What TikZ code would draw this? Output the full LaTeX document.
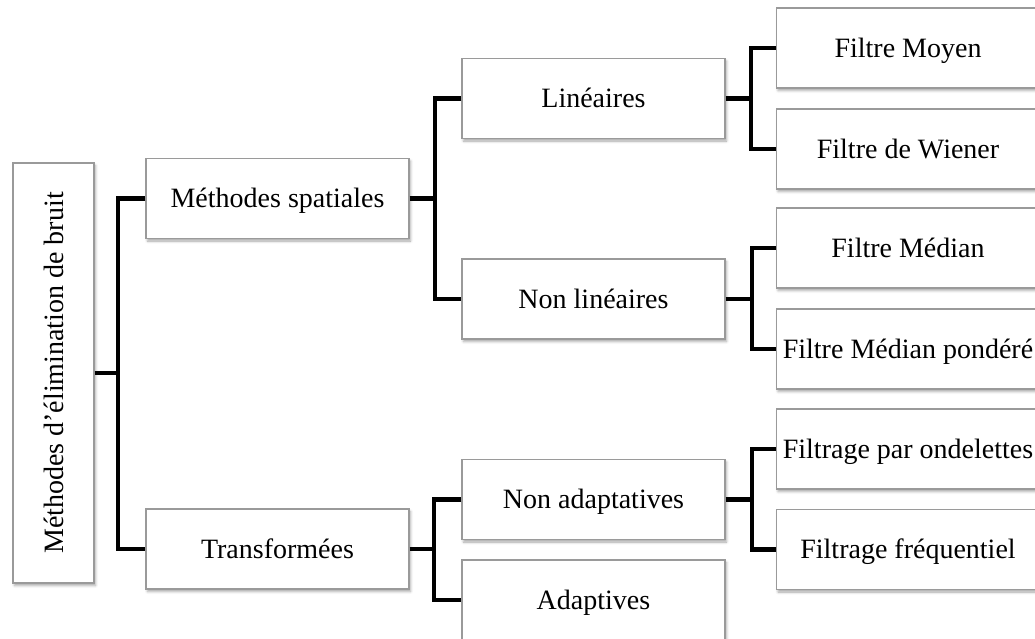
\documentclass[tikz,border=0pt]{standalone}
\usepackage{fontspec}
\setmainfont{Liberation Serif}
\usetikzlibrary{shadows.blur}
\definecolor{boxline}{HTML}{9A9A9A}
\tikzset{
  box/.style={draw=boxline, line width=1.2pt, fill=white, rectangle,
    minimum width=263pt, minimum height=80pt, inner sep=0pt,
    text height=18.5pt, text depth=0pt,
    font=\fontsize{28}{32}\selectfont,
    blur shadow={shadow xshift=1.5pt, shadow yshift=-2.5pt, shadow blur radius=2.5pt, shadow opacity=35}},
  link/.style={line width=4.8pt, black, line join=miter}
}
\begin{document}
\begin{tikzpicture}[x=1pt, y=-1pt]
\useasboundingbox (0,0) rectangle (1035,638);
\clip (0,0) rectangle (1035,638);

% root (vertical label)
\node[box, minimum width=81pt, minimum height=420pt, text height=, text depth=] (root) at (53.5,373)
  {\rotatebox{90}{Méthodes d’élimination de bruit}};

% second level
\node[box] (sp) at (277.5,198.5) {Méthodes spatiales};
\node[box] (tr) at (277.5,549) {Transformées};

% third level
\node[box] (lin)  at (593.5,98.5)  {Linéaires};
\node[box] (nlin) at (593.5,299)   {Non linéaires};
\node[box] (nad)  at (593.5,499.5) {Non adaptatives};
\node[box] (ad)   at (593.5,600)   {Adaptives};

% leaves
\node[box] (fm)   at (908,48)    {Filtre Moyen};
\node[box] (fw)   at (908,149)   {Filtre de Wiener};
\node[box] (fmed) at (908,248)   {Filtre Médian};
\node[box] (fmp)  at (908,349)   {Filtre Médian pondéré};
\node[box] (fo)   at (908,449)   {Filtrage par ondelettes};
\node[box] (ff)   at (908,549.5) {Filtrage fréquentiel};

% junction points
\coordinate (j1) at (118,373);
\coordinate (j2) at (435,198.5);
\coordinate (j3) at (434,549);
\coordinate (j4) at (751,98.5);
\coordinate (j5) at (752,299);
\coordinate (j6) at (752,499.5);

% bracket connectors
\draw[link] (root.east) -- (j1);
\draw[link] (sp.west) -| (j1) |- (tr.west);
\draw[link] (sp.east) -- (j2);
\draw[link] (lin.west) -| (j2) |- (nlin.west);
\draw[link] (tr.east) -- (j3);
\draw[link] (nad.west) -| (j3) |- (ad.west);
\draw[link] (lin.east) -- (j4);
\draw[link] (fm.west) -| (j4) |- (fw.west);
\draw[link] (nlin.east) -- (j5);
\draw[link] (fmed.west) -| (j5) |- (fmp.west);
\draw[link] (nad.east) -- (j6);
\draw[link] (fo.west) -| (j6) |- (ff.west);
\end{tikzpicture}
\end{document}
